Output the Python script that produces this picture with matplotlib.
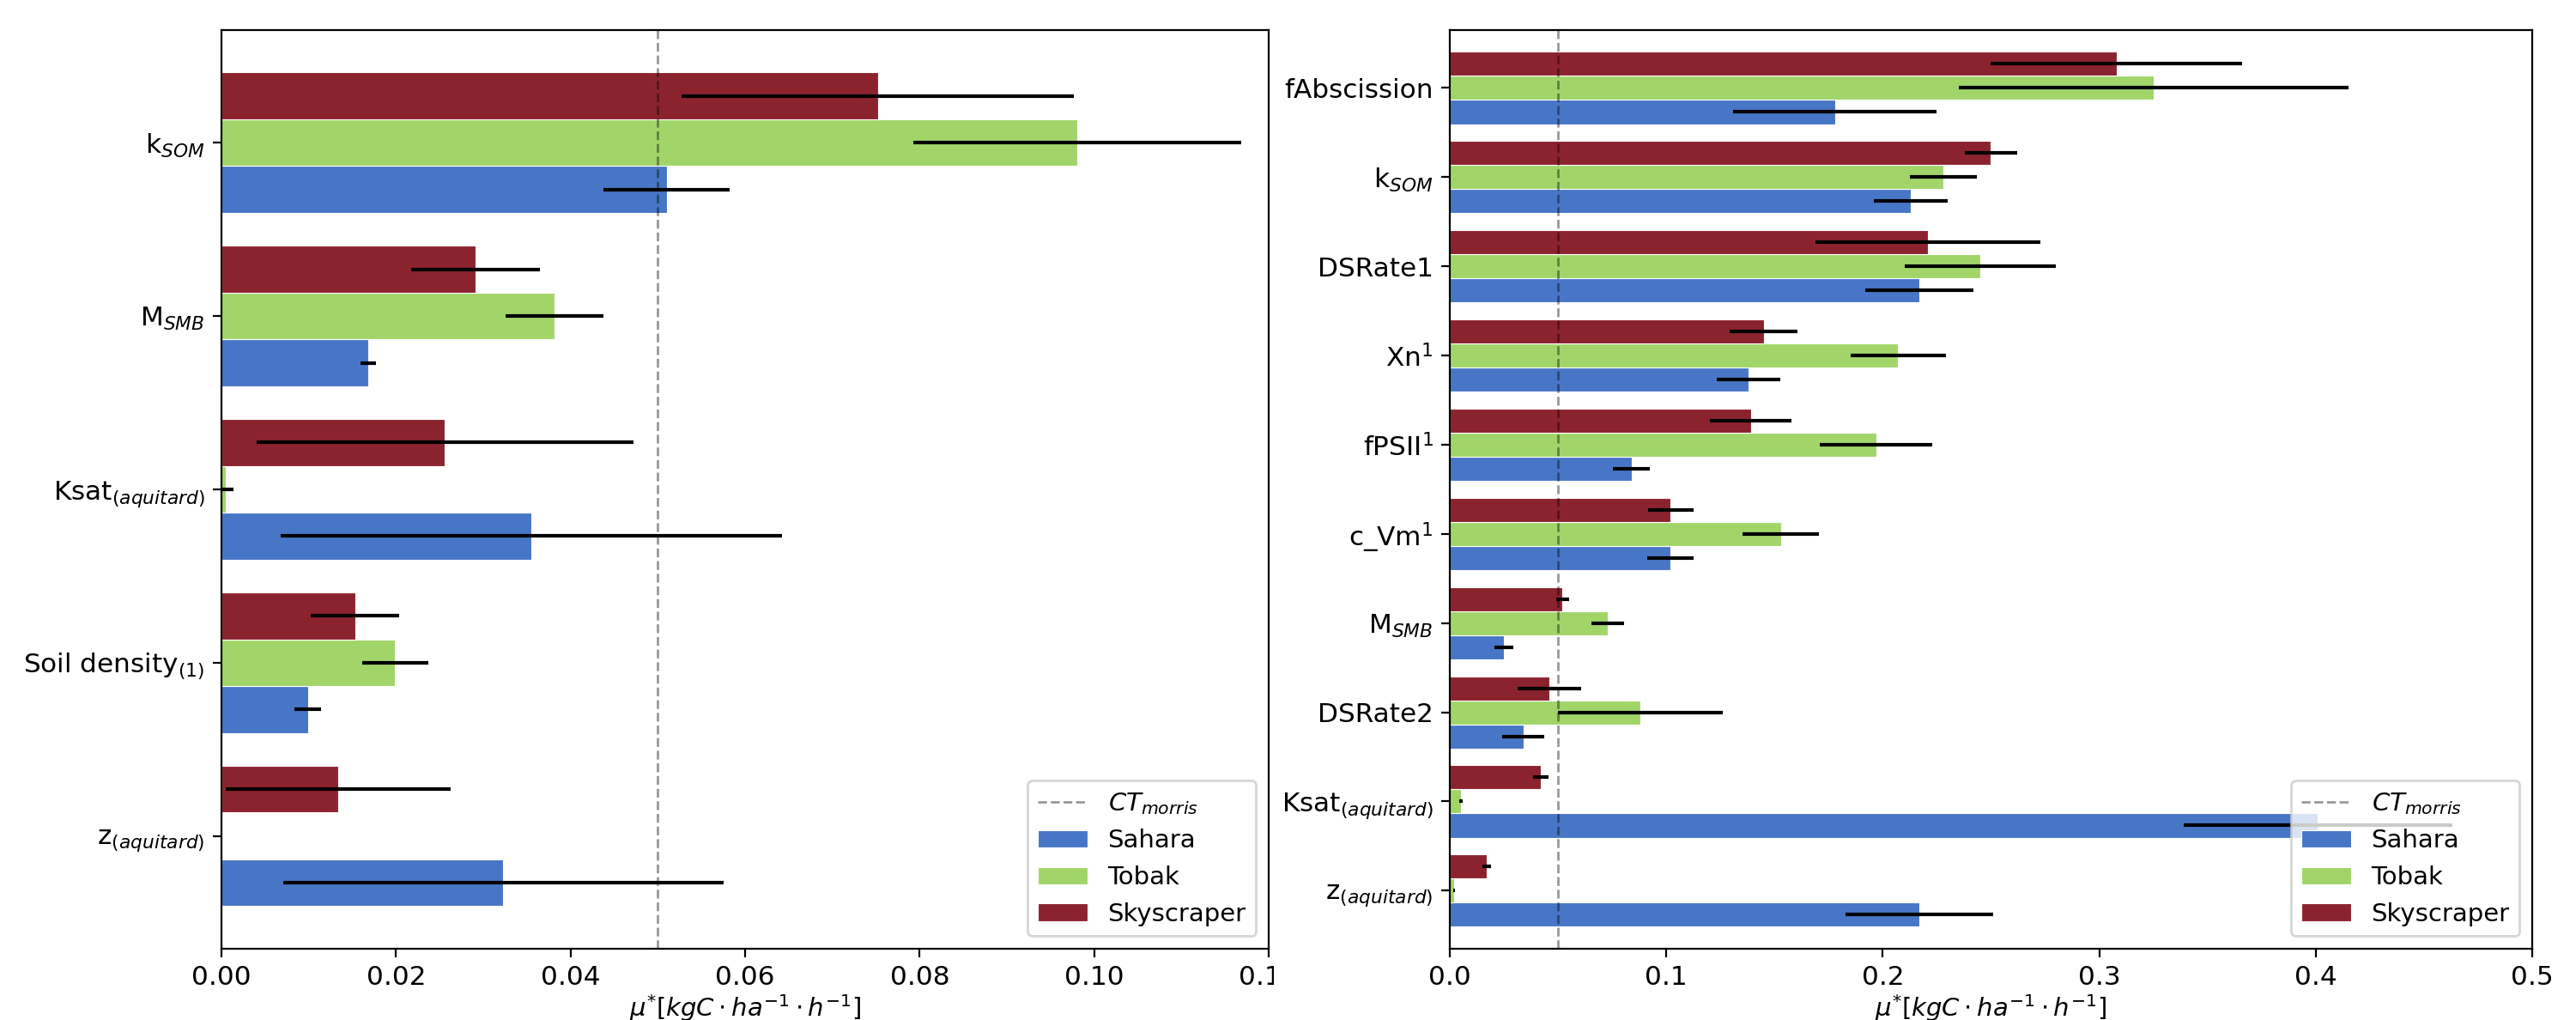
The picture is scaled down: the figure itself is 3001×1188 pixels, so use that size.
import numpy as np
import matplotlib
matplotlib.use("Agg")
import matplotlib.pyplot as plt
from matplotlib.ticker import FormatStrFormatter
from matplotlib.transforms import Bbox, TransformedBbox

# Morris screening results: mean of absolute elementary effects (mu*) and its spread
sites = ['Sahara', 'Tobak', 'Skyscraper']
site_colors = ['#4876C6', '#A1D56A', '#8B232E']
ct_morris = 0.05

# Left panel
left_params = ['k$_{SOM}$', 'M$_{SMB}$', 'Ksat$_{(aquitard)}$',
               'Soil density$_{(1)}$', 'z$_{(aquitard)}$']
left_sahara = [0.0510, 0.0168, 0.0355, 0.0099, 0.0323]
left_sahara_err = [0.0072, 0.0009, 0.0287, 0.0015, 0.0252]
left_tobak = [0.0981, 0.0382, 0.0005, 0.0199, 0.0]
left_tobak_err = [0.0188, 0.0056, 0.0009, 0.0038, 0.0]
left_sky = [0.0752, 0.0291, 0.0256, 0.0153, 0.0134]
left_sky_err = [0.0225, 0.0074, 0.0216, 0.0051, 0.0129]

# Right panel
right_params = ['fAbscission', 'k$_{SOM}$', 'DSRate1', 'Xn$^1$', 'fPSII$^1$',
                'c_Vm$^1$', 'M$_{SMB}$', 'DSRate2', 'Ksat$_{(aquitard)}$',
                'z$_{(aquitard)}$']
right_sahara = [0.178, 0.213, 0.217, 0.138, 0.084, 0.102, 0.025, 0.034, 0.401, 0.217]
right_sahara_err = [0.047, 0.017, 0.025, 0.0145, 0.0085, 0.0106, 0.0045, 0.0097, 0.062, 0.034]
right_tobak = [0.325, 0.228, 0.245, 0.207, 0.197, 0.153, 0.073, 0.088, 0.005, 0.002]
right_tobak_err = [0.090, 0.0154, 0.035, 0.022, 0.026, 0.0177, 0.0076, 0.038, 0.0008, 0.0005]
right_sky = [0.308, 0.250, 0.221, 0.145, 0.139, 0.102, 0.052, 0.046, 0.042, 0.017]
right_sky_err = [0.058, 0.012, 0.052, 0.0157, 0.019, 0.0105, 0.003, 0.0148, 0.0036, 0.0019]

bar_h = 0.27


def morris_panel(ax, params, values, errors, xmax, xticks):
    n = len(params)
    y = n - 1 - np.arange(n)
    # Sahara below the tick, Tobak on it, Skyscraper above
    offsets = [-bar_h, 0.0, bar_h]
    for name, col, off, vals, errs in zip(sites, site_colors, offsets, values, errors):
        ax.barh(y + off, vals, height=bar_h, xerr=errs, color=col,
                edgecolor='white', linewidth=0.4, label=name,
                error_kw=dict(ecolor='black', elinewidth=1.5, capsize=0))
    ax.axvline(ct_morris, color='black', alpha=0.4, linestyle='--', linewidth=1.0,
               label='$CT_{morris}$', zorder=3)
    ax.set_yticks(y)
    ax.set_yticklabels(params)
    ax.set_ylim(-0.65, n - 0.35)
    ax.set_xlim(0, xmax)
    ax.set_xticks(xticks)
    ax.tick_params(labelsize=11.2)
    ax.set_xlabel(r'$\mu^{*} [kgC \cdot ha^{-1} \cdot h^{-1}]$', fontsize=10.5, labelpad=1)
    ax.legend(loc='lower right', fontsize=10.5)


fig = plt.figure(figsize=(15.005, 5.94), dpi=200)
ax1 = fig.add_axes([0.086, 0.070, 0.4065, 0.9006])
ax2 = fig.add_axes([0.5628, 0.070, 0.4202, 0.9006])

morris_panel(ax1, left_params,
             [left_sahara, left_tobak, left_sky],
             [left_sahara_err, left_tobak_err, left_sky_err],
             0.12, np.arange(0, 0.121, 0.02))
ax1.xaxis.set_major_formatter(FormatStrFormatter('%.2f'))

morris_panel(ax2, right_params,
             [right_sahara, right_tobak, right_sky],
             [right_sahara_err, right_tobak_err, right_sky_err],
             0.5, np.arange(0, 0.51, 0.1))
ax2.xaxis.set_major_formatter(FormatStrFormatter('%.1f'))

# the left panel is trimmed just right of its frame
cut = TransformedBbox(Bbox([[0, 0], [0.4945, 1]]), fig.transFigure)
for lab in ax1.get_xticklabels():
    lab.set_clip_box(cut)
    lab.set_clip_on(True)

fig.savefig('out.png', dpi=200)
